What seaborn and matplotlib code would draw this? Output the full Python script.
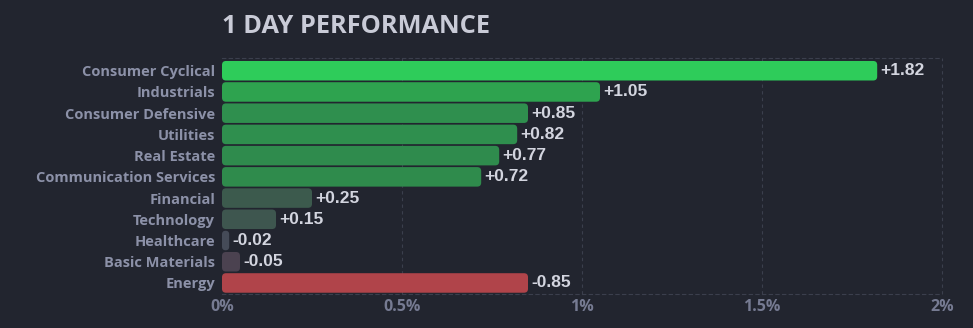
import matplotlib
matplotlib.use("Agg")
import matplotlib.pyplot as plt
import seaborn as sns
import pandas as pd
from matplotlib.patches import FancyBboxPatch

categories = ["Consumer Cyclical", "Industrials", "Consumer Defensive", "Utilities",
              "Real Estate", "Communication Services", "Financial", "Technology",
              "Healthcare", "Basic Materials", "Energy"]
changes = [1.82, 1.05, 0.85, 0.82, 0.77, 0.72, 0.25, 0.15, -0.02, -0.05, -0.85]
bar_colors = ["#2ecc5a", "#2ea34f", "#2f8f4e", "#2f8f4e", "#2f8b4d", "#2f8b4c",
              "#3c5a4d", "#3e564f", "#454b58", "#4b4250", "#b0444a"]
x_ticks = [0, 0.5, 1, 1.5, 2]
x_tick_labels = ["0%", "0.5%", "1%", "1.5%", "2%"]
title = "1 DAY PERFORMANCE"

BG = "#22252f"
GRID = "#3b3f4d"

df = pd.DataFrame({"sector": categories, "value": [abs(v) for v in changes],
                   "change": changes})

sns.set_theme(style="dark")
plt.rcParams["font.family"] = ["Open Sans", "DejaVu Sans"]

fig = plt.figure(figsize=(9.73, 3.28), dpi=100, facecolor=BG)
ax = fig.add_axes([222 / 973, 1 - 294 / 328, 720 / 973, 236 / 328])
ax.set_facecolor(BG)

sns.barplot(data=df, x="value", y="sector", hue="sector", palette=bar_colors,
            legend=False, width=0.92, ax=ax, saturation=1, orient="h")

ax.set_xlim(0, 2)
ax.set_ylim(10.52, -0.6)

# rounded bars
x_px_per_unit = 720 / 2.0
y_px_per_unit = 236 / 11.12
radius_px = 4.0
patches = list(ax.patches)
for p, chg in zip(patches, changes):
    x0, y0 = p.get_x(), p.get_y()
    w, h = p.get_width(), p.get_height()
    fc = p.get_facecolor()
    p.remove()
    r_px = min(radius_px, w * x_px_per_unit / 2)
    r_x = r_px / x_px_per_unit
    aspect = x_px_per_unit / y_px_per_unit
    fb = FancyBboxPatch((x0, y0), w, h,
                        boxstyle=f"round,pad=0,rounding_size={r_x}",
                        mutation_aspect=aspect,
                        facecolor=fc, edgecolor="none", zorder=3)
    ax.add_patch(fb)
    label = f"{chg:+.2f}"
    ax.text(x0 + w + 0.008, y0 + h / 2, label, va="center", ha="left",
            color="#d3d5df", fontsize=12.5, fontweight="bold",
            family=["Liberation Sans", "DejaVu Sans"], zorder=4)

# grid and frame
ax.set_xticks(x_ticks)
ax.set_xticklabels(x_tick_labels)
for xv in x_ticks[1:]:
    ax.axvline(xv, color=GRID, lw=0.8, ls=(0, (3, 3)), zorder=1, clip_on=False)
for s in ["left", "right"]:
    ax.spines[s].set_visible(False)
for s in ["top", "bottom"]:
    ax.spines[s].set_visible(True)
    ax.spines[s].set_color(GRID)
    ax.spines[s].set_linewidth(0.8)
    ax.spines[s].set_linestyle((0, (3, 3)))
ax.grid(False)

ax.set_xlabel("")
ax.set_ylabel("")
ax.tick_params(axis="y", length=0, pad=5, labelsize=10.5, labelcolor="#8c91a8")
ax.tick_params(axis="x", length=0, pad=3.5, labelsize=11.5, labelcolor="#767b92")
for lbl in ax.get_yticklabels() + ax.get_xticklabels():
    lbl.set_fontweight("bold")

fig.text(222 / 973, 1 - 33 / 328, title, ha="left", va="baseline",
         fontsize=18.3, fontweight="bold", color="#c9cbd7")

fig.savefig("out.png", dpi=100, facecolor=BG)
